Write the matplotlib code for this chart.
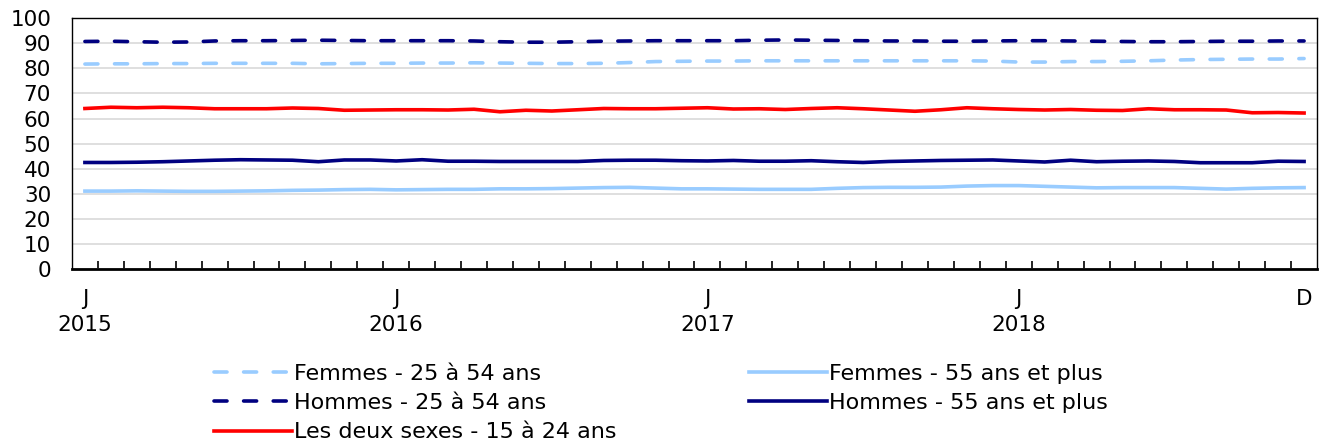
import numpy as np
import matplotlib
matplotlib.use("Agg")
import matplotlib.pyplot as plt

# monthly values, Jan 2015 -> Dec 2018
months = np.arange(48)

femmes_25_54 = [81.7, 81.8, 81.8, 81.9, 81.9, 82.0, 82.0, 82.0, 82.0, 81.8, 81.9, 82.0,
                82.0, 82.1, 82.1, 82.2, 82.1, 82.0, 81.9, 81.9, 82.0, 82.3, 82.7, 82.8,
                82.9, 82.9, 83.0, 83.0, 83.0, 83.0, 83.0, 83.0, 83.0, 83.0, 83.0, 82.9,
                82.5, 82.5, 82.7, 82.7, 82.8, 83.0, 83.3, 83.5, 83.6, 83.7, 83.7, 83.9]
hommes_25_54 = [90.7, 90.8, 90.6, 90.4, 90.5, 90.9, 91.0, 91.0, 91.1, 91.2, 91.1, 91.0,
                91.0, 91.0, 91.0, 90.9, 90.6, 90.4, 90.4, 90.6, 90.8, 90.9, 91.0, 91.0,
                91.0, 91.0, 91.2, 91.3, 91.2, 91.1, 91.0, 90.9, 90.9, 90.8, 90.8, 90.9,
                91.0, 91.0, 90.9, 90.8, 90.7, 90.6, 90.6, 90.7, 90.8, 90.8, 90.9, 90.9]
femmes_55 = [31.1, 31.1, 31.2, 31.1, 31.0, 31.0, 31.1, 31.2, 31.4, 31.5, 31.7, 31.8,
             31.6, 31.7, 31.8, 31.8, 32.0, 32.0, 32.1, 32.3, 32.5, 32.6, 32.3, 32.0,
             32.0, 31.9, 31.8, 31.8, 31.8, 32.2, 32.5, 32.6, 32.6, 32.7, 33.1, 33.3,
             33.3, 33.0, 32.7, 32.4, 32.5, 32.5, 32.5, 32.2, 31.9, 32.2, 32.4, 32.5]
hommes_55 = [42.5, 42.5, 42.6, 42.8, 43.1, 43.4, 43.6, 43.5, 43.4, 42.8, 43.5, 43.5,
             43.1, 43.6, 43.0, 43.0, 42.9, 42.9, 42.9, 42.9, 43.3, 43.4, 43.4, 43.2,
             43.1, 43.3, 43.0, 43.0, 43.2, 42.8, 42.5, 42.9, 43.1, 43.3, 43.4, 43.5,
             43.1, 42.7, 43.4, 42.8, 43.0, 43.1, 42.9, 42.4, 42.4, 42.4, 43.0, 42.9]
deux_sexes = [64.0, 64.5, 64.3, 64.5, 64.3, 63.9, 63.9, 63.9, 64.2, 64.0, 63.3, 63.4,
              63.5, 63.5, 63.4, 63.7, 62.7, 63.3, 63.0, 63.5, 64.0, 63.9, 63.9, 64.1,
              64.3, 63.8, 63.9, 63.6, 64.0, 64.3, 63.9, 63.4, 62.9, 63.5, 64.3, 63.9,
              63.6, 63.4, 63.6, 63.3, 63.2, 63.9, 63.5, 63.5, 63.4, 62.3, 62.4, 62.2]

tick_pos = [0, 12, 24, 36, 47]
tick_labels = ["J\n2015", "J\n2016", "J\n2017", "J\n2018", "D"]

light = "#99ccff"
navy = "#000080"
red = "#ff0000"

fig = plt.figure(figsize=(13.25, 4.42), dpi=100)
ax = fig.add_axes([0.0543, 0.391, 0.9397, 0.568])

dash = dict(linestyle=(0, (3.6, 4.6)), dash_capstyle="round", lw=2.6)
l1, = ax.plot(months, femmes_25_54, color=light, label="Femmes - 25 à 54 ans", **dash)
l2, = ax.plot(months, hommes_25_54, color=navy, label="Hommes - 25 à 54 ans", **dash)
l3, = ax.plot(months, femmes_55, color=light, lw=2.6, label="Femmes - 55 ans et plus")
l4, = ax.plot(months, hommes_55, color=navy, lw=2.6, label="Hommes - 55 ans et plus")
l5, = ax.plot(months, deux_sexes, color=red, lw=2.6, label="Les deux sexes - 15 à 24 ans")

ax.set_xlim(-0.5, 47.5)
ax.set_ylim(0, 100)
ax.set_yticks(np.arange(0, 101, 10))
ax.grid(axis="y", color="#d9d9d9", lw=1.2)
ax.set_axisbelow(True)

ax.set_xticks(tick_pos)
ax.set_xticklabels(tick_labels, fontsize=15.5, linespacing=1.38, va="top")
ax.set_xticks(np.arange(0.5, 47, 1), minor=True)
ax.tick_params(axis="x", which="major", length=0, pad=14)
ax.tick_params(axis="x", which="minor", direction="in", length=6, width=1.2)
ax.tick_params(axis="y", length=0, pad=15, labelsize=15.5)

for s in ["top", "right", "left"]:
    ax.spines[s].set_linewidth(1.0)
ax.spines["bottom"].set_linewidth(2)

fig.legend(handles=[l1, l2, l5, l3, l4], ncol=2, loc="upper left",
           bbox_to_anchor=(0.155, 0.197), frameon=False,
           prop={"size": 16},
           handlelength=3.5, handletextpad=0.1, columnspacing=5.95,
           labelspacing=0.42, borderaxespad=0)

fig.savefig("out.png", dpi=100)
